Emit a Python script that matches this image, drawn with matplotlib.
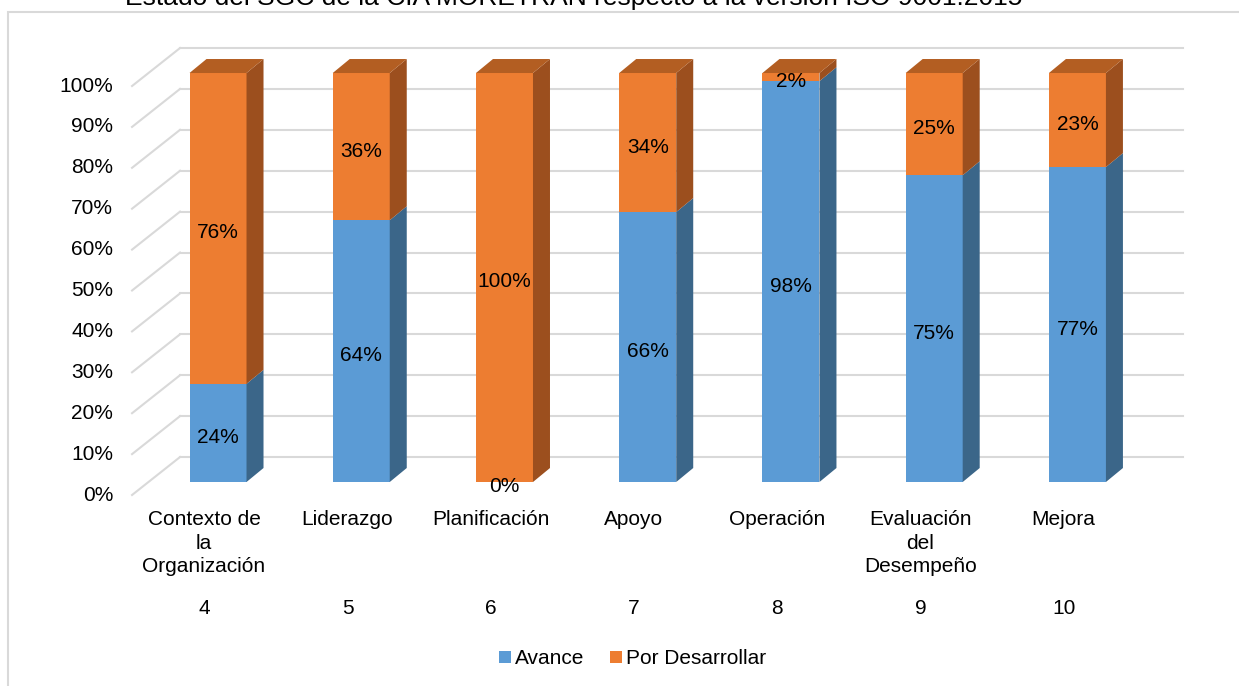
import numpy as np
import matplotlib.pyplot as plt
from matplotlib.patches import Polygon, Rectangle

plt.rcParams['font.family'] = ['Liberation Sans', 'DejaVu Sans']

# datos del grafico
titulo = 'Estado del SGC de la CIA MORETRAN respecto a la versión ISO 9001:2015'
categorias = ['Contexto de\nla\nOrganización', 'Liderazgo', 'Planificación', 'Apoyo',
              'Operación', 'Evaluación\ndel\nDesempeño', 'Mejora']
clausulas = ['4', '5', '6', '7', '8', '9', '10']
avance = [24, 64, 0, 66, 98, 75, 77]
por_desarrollar = [76, 36, 100, 34, 2, 25, 23]
ticks_y = [0, 10, 20, 30, 40, 50, 60, 70, 80, 90, 100]

# colores (cara frontal, lateral, superior)
azul = ('#5B9BD5', '#3B6689', '#41719C')
naranja = ('#ED7D31', '#9C4F1E', '#B35E22')
gris = '#D9D9D9'

# "perspectiva" oblicua en unidades de datos
ancho = 0.398
prof_x, prof_y = 0.1187, 3.42       # profundidad de las barras
pared_x, pared_y = 0.2206, 6.11     # pared del fondo
frente_x, frente_y = -0.1145, -3.18  # plano de las etiquetas

fig = plt.figure(figsize=(12.39, 6.86), dpi=100)
ax = fig.add_axes([0, 0, 1, 1])
ax.set_xlim(-1.522, 7.128)
ax.set_ylim(-49.88, 117.85)
ax.axis('off')

# marco
fig.patches.append(Rectangle((8 / 1239, -0.01), 1.1, 1 - 12 / 686 + 0.01, transform=fig.transFigure,
                             fill=False, edgecolor=gris, lw=1.5))

x = np.arange(len(categorias))

# lineas de la cuadricula (pared del fondo + diagonales)
x_izq = -0.265
x_der = 6.737
for v in ticks_y:
    ax.plot([x_izq, x_der], [v + pared_y, v + pared_y], color=gris, lw=1.5, zorder=1)
    ax.plot([x_izq - pared_x + frente_x, x_izq], [v + frente_y, v + pared_y], color=gris, lw=1.5, zorder=1)
    ax.text(-0.733, v + frente_y, '%d%%' % v, ha='right', va='center', fontsize=15)

# barras apiladas
b1 = ax.bar(x, avance, ancho, color=azul[0], label='Avance', zorder=3)
b2 = ax.bar(x, por_desarrollar, ancho, bottom=avance, color=naranja[0], label='Por Desarrollar', zorder=3)

for i in range(len(x)):
    base = 0
    segs = [(avance[i], azul), (por_desarrollar[i], naranja)]
    x1 = x[i] + ancho / 2
    for h, cols in segs:
        if h > 0:
            lado = Polygon([(x1, base), (x1, base + h), (x1 + prof_x, base + h + prof_y),
                            (x1 + prof_x, base + prof_y)], closed=True, color=cols[1], lw=0, zorder=3)
            ax.add_patch(lado)
        # etiqueta del segmento
        ax.text(x[i], base + h / 2 - 1.1, '%d%%' % h, ha='center', va='center', fontsize=15, zorder=5)
        base += h
    # cara superior del segmento de arriba
    top_col = naranja if por_desarrollar[i] > 0 else azul
    x0 = x[i] - ancho / 2
    tapa = Polygon([(x0, base), (x1, base), (x1 + prof_x, base + prof_y), (x0 + prof_x, base + prof_y)],
                   closed=True, color=top_col[2], lw=0, zorder=3)
    ax.add_patch(tapa)

# etiquetas de categorias
for i in range(len(x)):
    ax.text(x[i] - 0.098, -6.85, categorias[i], ha='center', va='top', fontsize=15, linespacing=1.3)
    ax.text(x[i] - 0.095, -31.0, clausulas[i], ha='center', va='center', fontsize=15)

# titulo (cortado en la imagen original)
ax.text(2.482, 116.6, titulo, ha='center', va='baseline', fontsize=19)

ax.legend(handles=[b1, b2], loc='center', bbox_to_anchor=(0.5105, 0.0395), bbox_transform=fig.transFigure,
          ncol=2, frameon=False, fontsize=15, handlelength=0.55, handleheight=0.55,
          handletextpad=0.2, columnspacing=1.25)

fig.savefig('out.png', dpi=100)
